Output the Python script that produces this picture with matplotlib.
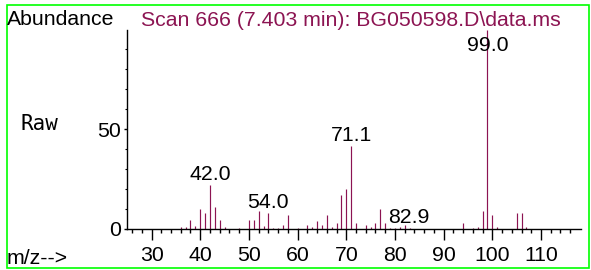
import matplotlib
matplotlib.use("Agg")
import matplotlib.pyplot as plt
from matplotlib.patches import Rectangle
from matplotlib.ticker import FixedLocator, NullFormatter

# spectrum (m/z, relative abundance)
mz = [36, 37, 38, 39, 40, 41, 42, 43, 44, 45, 48, 50, 51, 52, 53, 54, 55, 56,
      57, 58, 60, 62, 63, 64, 65, 66, 67, 68, 69, 70, 71, 72, 74, 75, 76, 77,
      78, 79, 80, 81, 82, 83, 94, 96, 97, 98, 99, 100, 101, 105, 106, 107]
abundance = [0.8, 0.8, 4.7, 1.7, 9.8, 7.8, 22.0, 10.8, 4.7, 0.9, 0.7, 4.7, 4.7,
             8.8, 1.7, 7.8, 0.7, 0.7, 1.9, 6.8, 0.7, 1.9, 0.8, 3.9, 1.9, 6.9,
             0.9, 2.8, 16.9, 20.0, 41.6, 2.8, 1.9, 0.9, 2.8, 9.9, 2.8, 0.7, 0.7,
             0.9, 1.9, 0.4, 2.8, 0.5, 0.9, 8.8, 100.0, 6.8, 0.9, 7.8, 7.8, 0.8]

peak_labels = ["42.0", "54.0", "71.1", "82.9", "99.0"]
peak_mz = [42.0, 54.0, 71.1, 82.9, 99.0]

x_major = [30, 40, 50, 60, 70, 80, 90, 100, 110]
x_minor = [v for v in range(26, 117, 2) if v % 10 != 0]
y_major = [0, 50]
y_minor = [10, 20, 30, 40, 60, 70, 80, 90]

title = "Scan 666 (7.403 min): BG050598.D\\data.ms"
spec_color = "#8C1452"
FONT = "Liberation Sans"
FS = 15.3

W, H = 591, 270
fig = plt.figure(figsize=(W / 100, H / 100), dpi=100)
ax = fig.add_axes([126.7 / W, 1 - 229 / H, (580.7 - 126.7) / W, (229 - 29.5) / H])

ax.vlines(mz, 0, abundance, color=spec_color, lw=0.85)

# peak labels sit just above their peak, the base peak one is pushed down
lookup = dict(zip(mz, abundance))
for lab, m in zip(peak_labels, peak_mz):
    y = min(lookup.get(round(m), 0), 86.5)
    ax.annotate(lab, (m, y), xytext=(0, 3.6), textcoords="offset points",
                ha="center", va="baseline", fontsize=FS, family=FONT)

ax.set_xlim(24.9, 118.15)
ax.set_ylim(0, 100)
for s in ["top", "right"]:
    ax.spines[s].set_visible(False)
for s in ["left", "bottom"]:
    ax.spines[s].set_linewidth(1.0)

ax.xaxis.set_major_locator(FixedLocator(x_major))
ax.xaxis.set_minor_locator(FixedLocator(x_minor))
ax.yaxis.set_major_locator(FixedLocator(y_major))
ax.yaxis.set_minor_locator(FixedLocator(y_minor))
ax.xaxis.set_minor_formatter(NullFormatter())
ax.yaxis.set_minor_formatter(NullFormatter())
ax.tick_params(axis="x", which="major", length=7.9, width=1.0, pad=4.0,
               labelsize=FS, direction="out")
ax.tick_params(axis="x", which="minor", length=2.9, width=1.0, direction="out")
ax.tick_params(axis="y", which="major", length=2.2, width=1.0, pad=2,
               labelsize=FS, direction="out")
ax.tick_params(axis="y", which="minor", length=1.2, width=0.8, direction="out")
for lbl in ax.get_xticklabels() + ax.get_yticklabels():
    lbl.set_family(FONT)

fig.text(7 / W, 1 - 25 / H, "Abundance", fontsize=FS, family=FONT, va="baseline")
fig.text(141 / W, 1 - 26.5 / H, title, fontsize=FS, family=FONT,
         color=spec_color, va="baseline")
fig.text(20.5 / W, 1 - 130 / H, "Raw", fontsize=15, family="DejaVu Sans Mono",
         va="baseline")
fig.text(7 / W, 1 - 263.5 / H, "m/z-->", fontsize=FS, family=FONT, va="baseline")

# green frame around the whole panel
fig.add_artist(Rectangle((6.7 / W, 1 - 267.5 / H), (589 - 6.7) / W, (267.5 - 4.7) / H,
                         transform=fig.transFigure, fill=False,
                         edgecolor="#00FF00", lw=1.2))

fig.savefig("out.png", dpi=100)
